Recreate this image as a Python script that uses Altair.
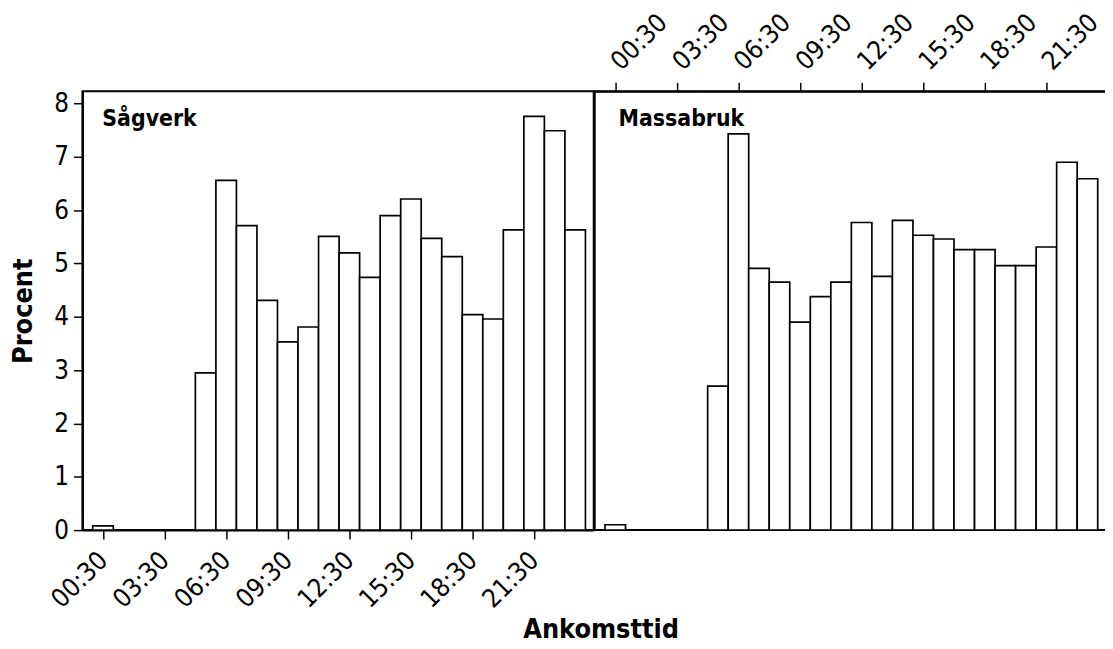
import altair as alt
import pandas as pd

# ---- data ----
hours = list(range(24))
sagverk = [0.08, 0, 0, 0, 0, 2.95, 6.56, 5.71, 4.31, 3.53, 3.81, 5.51,
           5.20, 4.74, 5.90, 6.21, 5.47, 5.13, 4.04, 3.96, 5.63, 7.76, 7.49, 5.63]
massabruk = [0.10, 0, 0, 0, 0, 2.70, 7.43, 4.91, 4.65, 3.90, 4.38, 4.65,
             5.77, 4.76, 5.81, 5.53, 5.46, 5.26, 5.26, 4.96, 4.96, 5.31, 6.90, 6.59]
tick_values = [0.5, 3.5, 6.5, 9.5, 12.5, 15.5, 18.5, 21.5]
tick_labels = ["00:30", "03:30", "06:30", "09:30", "12:30", "15:30", "18:30", "21:30"]
y_ticks = [0, 1, 2, 3, 4, 5, 6, 7, 8]
panel_names = ["Sågverk", "Massabruk"]
x_title = "Ankomsttid"
y_title = "Procent"

FONT = "DejaVu Sans Condensed"
W1, W2, H = 515, 532, 442
PXH = 20.68
xdom1 = [-0.5, -0.5 + W1 / PXH]
xdom2 = [-0.5, -0.5 + W2 / PXH]
ydom = [0, 8.23]

# canvas: plot origin at page (83, 89); canvas 1105 x 633 (page margin 8)
PAD_L, PAD_T = 75, 80
CANVAS_W, CANVAS_H = 1105, 633

label_expr = ""
for v, l in zip(tick_values, tick_labels):
    label_expr += f"datum.value == {v} ? '{l}' : "
label_expr += "''"


def frame(values):
    return pd.DataFrame({"start": hours, "end": [h + 1 for h in hours], "pct": values})


df_s = frame(sagverk)
df_m = frame(massabruk)

bar_style = dict(fill="white", stroke="black", strokeWidth=1.7, fillOpacity=1)
axis_common = dict(grid=False, domainColor="black", domainWidth=2, tickColor="black",
                   tickWidth=1.5, tickSize=9, labelColor="black", labelFont=FONT,
                   labelFontSize=26, titleFont=FONT, titleColor="black",
                   titleFontSize=27, titleFontWeight="bold")
x_label_style = dict(values=tick_values, labelExpr=label_expr, labelAngle=-45,
                     labelBaseline="middle", labelPadding=17, labelOverlap=False)

# ---- left panel ----
left_bars = alt.Chart(df_s).mark_bar(**bar_style).encode(
    x=alt.X("start:Q", scale=alt.Scale(domain=xdom1, nice=False, zero=False),
            axis=alt.Axis(title=x_title, titleX=522, titleY=108,
                          titleAlign="center", titleBaseline="alphabetic",
                          labelAlign="right", **x_label_style, **axis_common)),
    x2="end:Q",
    y=alt.Y("pct:Q", scale=alt.Scale(domain=ydom, nice=False),
            axis=alt.Axis(values=y_ticks, labelPadding=5, title=y_title,
                          titleX=-59, titleY=H / 2, titleAlign="center",
                          titleBaseline="middle", **axis_common)),
    y2=alt.datum(0),
)
left_label = alt.Chart(pd.DataFrame({"name": [panel_names[0]]})).mark_text(
    align="left", baseline="alphabetic", font=FONT, fontSize=23, fontWeight="bold",
    color="black").encode(x=alt.value(20), y=alt.value(35), text="name:N")
left = alt.layer(left_bars, left_label).properties(width=W1, height=H)

# ---- right panel (its right side is cut off by the canvas, as in the reference) ----
right_bars = alt.Chart(df_m).mark_bar(**bar_style).encode(
    x=alt.X("start:Q", scale=alt.Scale(domain=xdom2, nice=False, zero=False),
            axis=alt.Axis(orient="top", title=None, labelAlign="left",
                          **x_label_style, **axis_common)),
    x2="end:Q",
    y=alt.Y("pct:Q", scale=alt.Scale(domain=ydom, nice=False), axis=None),
    y2=alt.datum(0),
)
right_label = alt.Chart(pd.DataFrame({"name": [panel_names[1]]})).mark_text(
    align="left", baseline="alphabetic", font=FONT, fontSize=23, fontWeight="bold",
    color="black").encode(x=alt.value(24), y=alt.value(35), text="name:N")
right = alt.layer(right_bars, right_label).properties(width=W2, height=H)

chart = alt.hconcat(left, right, spacing=1, bounds="flush").properties(
    autosize=alt.AutoSizeParams(type="none"),
    padding={"left": PAD_L, "top": PAD_T, "right": CANVAS_W - PAD_L,
             "bottom": CANVAS_H - PAD_T},
    background="white",
).configure_view(stroke="black", strokeWidth=2)

chart.save("out.html", embed_options={"renderer": "svg", "actions": False})
